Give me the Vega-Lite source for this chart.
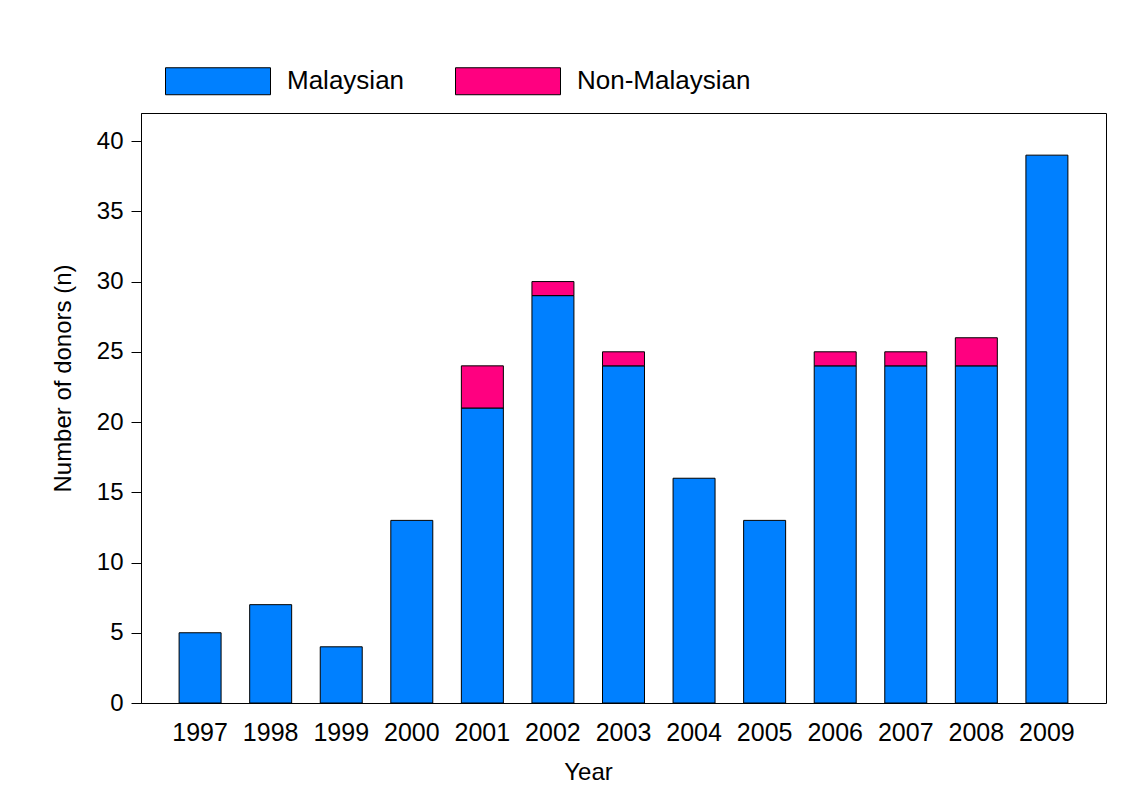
{
  "$schema": "https://vega.github.io/schema/vega-lite/v6.json",
  "width": 965,
  "height": 590,
  "autosize": "none",
  "padding": {"left": 141, "top": 113, "right": 23, "bottom": 89},
  "background": "white",
  "config": {
    "font": "Liberation Sans",
    "view": {"stroke": "black", "strokeWidth": 1},
    "axis": {"labelFont": "Liberation Sans", "titleFont": "Liberation Sans", "labelColor": "black", "titleColor": "black", "domainColor": "black", "tickColor": "black", "labelFontSize": 25, "titleFontSize": 24, "titleFontWeight": "normal", "grid": false},
    "legend": {"labelFont": "Liberation Sans", "labelFontSize": 26, "labelColor": "black", "labelLimit": 400}
  },
  "data": {
    "values": [
      {"year": "1997", "group": "Malaysian", "n": 5},
      {"year": "1998", "group": "Malaysian", "n": 7},
      {"year": "1999", "group": "Malaysian", "n": 4},
      {"year": "2000", "group": "Malaysian", "n": 13},
      {"year": "2001", "group": "Malaysian", "n": 21},
      {"year": "2001", "group": "Non-Malaysian", "n": 3},
      {"year": "2002", "group": "Malaysian", "n": 29},
      {"year": "2002", "group": "Non-Malaysian", "n": 1},
      {"year": "2003", "group": "Malaysian", "n": 24},
      {"year": "2003", "group": "Non-Malaysian", "n": 1},
      {"year": "2004", "group": "Malaysian", "n": 16},
      {"year": "2005", "group": "Malaysian", "n": 13},
      {"year": "2006", "group": "Malaysian", "n": 24},
      {"year": "2006", "group": "Non-Malaysian", "n": 1},
      {"year": "2007", "group": "Malaysian", "n": 24},
      {"year": "2007", "group": "Non-Malaysian", "n": 1},
      {"year": "2008", "group": "Malaysian", "n": 24},
      {"year": "2008", "group": "Non-Malaysian", "n": 2},
      {"year": "2009", "group": "Malaysian", "n": 39}
    ]
  },
  "mark": {"type": "bar", "stroke": "black", "strokeWidth": 1},
  "encoding": {
    "x": {
      "field": "year", "type": "ordinal", "title": "Year",
      "scale": {"paddingInner": 0.405, "paddingOuter": 0.54},
      "axis": {"labelAngle": 0, "ticks": false, "domain": false, "labelPadding": 17, "titlePadding": 15, "titleX": 447}
    },
    "y": {
      "field": "n", "type": "quantitative", "title": "Number of donors (n)",
      "stack": "zero",
      "scale": {"domain": [0, 42], "nice": false},
      "axis": {"values": [0, 5, 10, 15, 20, 25, 30, 35, 40], "tickSize": 10, "labelPadding": 8, "labelFontSize": 24, "titlePadding": 21, "titleY": 265, "domain": true}
    },
    "color": {
      "field": "group", "type": "nominal",
      "scale": {"domain": ["Malaysian", "Non-Malaysian"], "range": ["#0080ff", "#ff0080"]},
      "legend": {
        "title": null, "orient": "none", "direction": "horizontal",
        "legendX": 24, "legendY": -85,
        "symbolType": "M-1,-0.257H1V0.257H-1Z",
        "symbolSize": 11025, "symbolStrokeColor": "black", "symbolStrokeWidth": 1,
        "labelOffset": 16, "columnPadding": 48
      }
    },
    "order": {"field": "group", "sort": "ascending"}
  }
}
